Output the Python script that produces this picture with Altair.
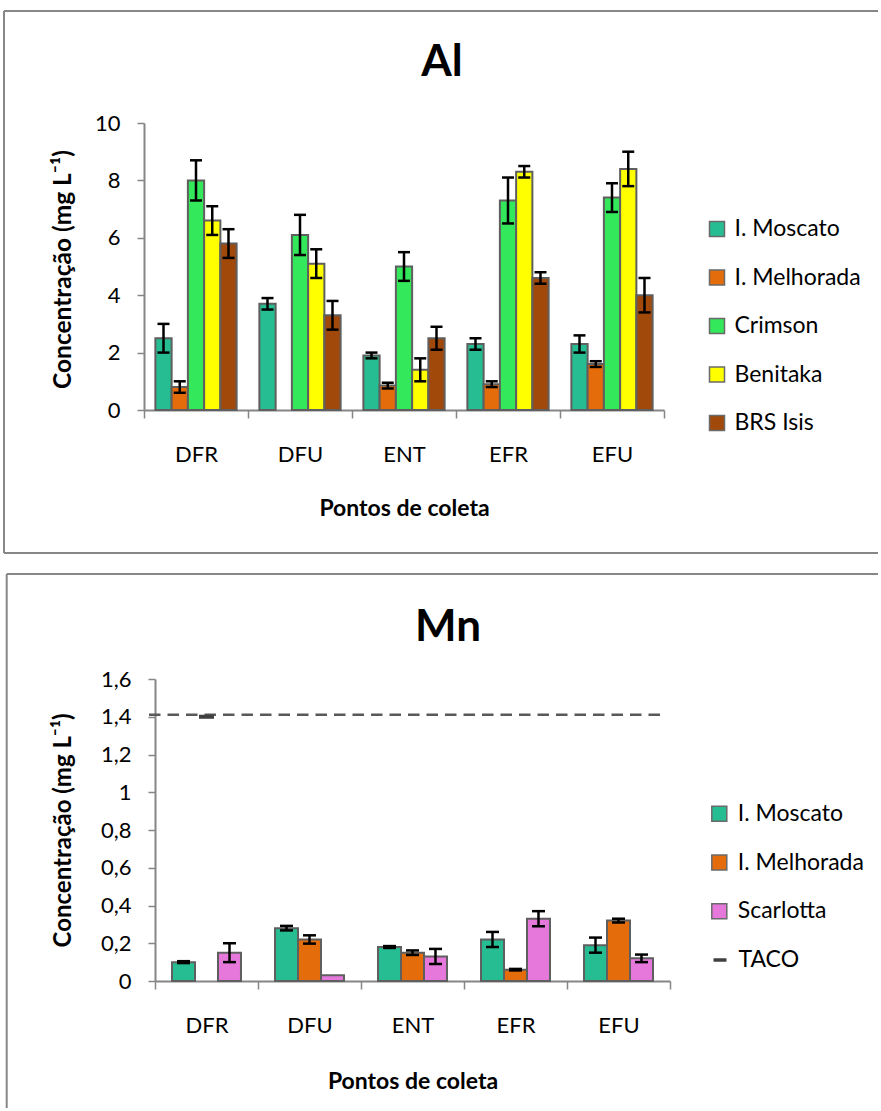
import altair as alt
import pandas as pd

# ---------------- data ----------------
sites = ["DFR", "DFU", "ENT", "EFR", "EFU"]

al_series = ["I. Moscato", "I. Melhorada", "Crimson", "Benitaka", "BRS Isis"]
al_colors = ["#27BD93", "#E46C0A", "#33E85A", "#FFFF00", "#A0490A"]
al_moscato = [2.5, 3.7, 1.9, 2.3, 2.3]
al_moscato_err = [0.5, 0.2, 0.1, 0.2, 0.3]
al_melhorada = [0.8, None, 0.85, 0.9, 1.6]
al_melhorada_err = [0.2, None, 0.1, 0.1, 0.1]
al_crimson = [8.0, 6.1, 5.0, 7.3, 7.4]
al_crimson_err = [0.7, 0.7, 0.5, 0.8, 0.5]
al_benitaka = [6.6, 5.1, 1.4, 8.3, 8.4]
al_benitaka_err = [0.5, 0.5, 0.4, 0.2, 0.6]
al_brs = [5.8, 3.3, 2.5, 4.6, 4.0]
al_brs_err = [0.5, 0.5, 0.4, 0.2, 0.6]

mn_series = ["I. Moscato", "I. Melhorada", "Scarlotta"]
mn_colors = ["#27BD93", "#E46C0A", "#E678DC"]
mn_moscato = [0.10, 0.28, 0.18, 0.22, 0.19]
mn_moscato_err = [0.005, 0.012, 0.005, 0.04, 0.04]
mn_melhorada = [None, 0.22, 0.15, 0.06, 0.32]
mn_melhorada_err = [None, 0.022, 0.012, 0.004, 0.01]
mn_scarlotta = [0.15, 0.03, 0.13, 0.33, 0.12]
mn_scarlotta_err = [0.05, 0.0, 0.04, 0.04, 0.02]

taco_label = ["TACO"]
taco_site = ["DFR"]
taco_value = [1.4]
taco_line = [1.41]

al_ticks = [0, 2, 4, 6, 8, 10]
mn_ticks = [0, 0.2, 0.4, 0.6, 0.8, 1.0, 1.2, 1.4, 1.6]

FONT = "Lato"
GRAY = "#868686"
FRAME = "#878787"
YTITLE = "Concentração (mg L⁻¹)"
XTITLE = "Pontos de coleta"


def long_df(series, vals, errs):
    rows = []
    for s, v, e in zip(series, vals, errs):
        for site, val, err in zip(sites, v, e):
            if val is None:
                continue
            err = err or 0.0
            rows.append(dict(site=site, serie=s, value=val, lo=val - err, hi=val + err, err=err))
    return pd.DataFrame(rows)


al_df = long_df(al_series,
                [al_moscato, al_melhorada, al_crimson, al_benitaka, al_brs],
                [al_moscato_err, al_melhorada_err, al_crimson_err, al_benitaka_err, al_brs_err])
mn_df = long_df(mn_series,
                [mn_moscato, mn_melhorada, mn_scarlotta],
                [mn_moscato_err, mn_melhorada_err, mn_scarlotta_err])
taco_df = pd.DataFrame({"site": taco_site, "v": taco_value, "ref": taco_label})
taco_line_df = pd.DataFrame({"v": taco_line})
one = pd.DataFrame({"a": [0]})


def hrule(x1, x2, y):
    return alt.Chart(one).mark_rule(color=FRAME, strokeWidth=2).encode(
        x=alt.value(x1), x2=alt.value(x2), y=alt.value(y))


def vrule(x, y1, y2):
    return alt.Chart(one).mark_rule(color=FRAME, strokeWidth=2).encode(
        x=alt.value(x), y=alt.value(y1), y2=alt.value(y2))


def panel(df, series, colors, domain, ticks, width, height, xrange, ypad_off,
          offset_pad, cap, ytitle_x, ytitle_y, ytitle_size, xtitle_y, legend_x, legend_y,
          row_pad, label_off, title, title_x, title_y, frame_layers, extra_layers,
          label_expr=None):
    xscale = alt.Scale(domain=sites, range=xrange, paddingInner=0, paddingOuter=0)
    xaxis = alt.Axis(title=XTITLE, labelAngle=0, tickBand="extent", tickSize=8,
                     tickColor=GRAY, tickWidth=1.5, domainColor=GRAY, domainWidth=2,
                     labelFont=FONT, labelFontSize=22, labelColor="black", labelPadding=26,
                     titleFont=FONT, titleFontSize=23, titleFontWeight="bold", titleColor="black",
                     titleBaseline="alphabetic", titleX=(xrange[0] + xrange[1]) / 2,
                     titleY=xtitle_y)
    yaxis_kw = dict(title=YTITLE, values=ticks, tickSize=7, tickColor=GRAY, tickWidth=1.5,
                    domainColor=GRAY, domainWidth=2, grid=False,
                    labelFont=FONT, labelFontSize=22, labelColor="black", labelPadding=17,
                    titleFont=FONT, titleFontSize=ytitle_size, titleFontWeight="bold",
                    titleColor="black", titleAngle=270, titleBaseline="alphabetic",
                    titleAlign="center", titleX=ytitle_x, titleY=ytitle_y)
    if ypad_off:
        yaxis_kw["offset"] = ypad_off
    if label_expr:
        yaxis_kw["labelExpr"] = label_expr
    yaxis = alt.Axis(**yaxis_kw)
    yscale = alt.Scale(domain=domain, nice=False, zero=True)

    X = alt.X("site:N", sort=sites, scale=xscale, axis=xaxis)
    XO = alt.XOffset("serie:N", sort=series,
                     scale=alt.Scale(domain=series, paddingInner=0, paddingOuter=offset_pad))

    bars = alt.Chart(df).mark_bar(stroke="#5f5f5f", strokeWidth=2).encode(
        x=X, xOffset=XO,
        y=alt.Y("value:Q", scale=yscale, axis=yaxis),
        color=alt.Color("serie:N", sort=series,
                        scale=alt.Scale(domain=series, range=colors),
                        legend=alt.Legend(orient="none", legendX=legend_x, legendY=legend_y,
                                          title=None, padding=0, symbolType="square",
                                          symbolSize=225, symbolStrokeColor="#6a6a6a",
                                          symbolStrokeWidth=1.5, labelFont=FONT,
                                          labelFontSize=23, labelColor="black",
                                          rowPadding=row_pad, labelOffset=label_off)),
    )
    err_base = alt.Chart(df).transform_filter("datum.err > 0")
    rules = err_base.mark_rule(color="black", strokeWidth=2.5).encode(
        x=X, xOffset=XO,
        y=alt.Y("lo:Q", scale=yscale, axis=yaxis), y2="hi:Q")
    cap_lo = err_base.mark_tick(color="black", thickness=2.5, size=cap, opacity=1).encode(
        x=X, xOffset=XO, y=alt.Y("lo:Q", scale=yscale, axis=yaxis))
    cap_hi = err_base.mark_tick(color="black", thickness=2.5, size=cap, opacity=1).encode(
        x=X, xOffset=XO, y=alt.Y("hi:Q", scale=yscale, axis=yaxis))

    ttl = alt.Chart(one).mark_text(text=title, font=FONT, fontSize=44, fontWeight="bold",
                                   color="black", align="center", baseline="alphabetic").encode(
        x=alt.value(title_x), y=alt.value(title_y))

    layers = frame_layers + [bars, rules, cap_lo, cap_hi] + extra_layers(X, yscale, yaxis) + [ttl]
    return alt.layer(*layers).properties(width=width, height=height)


# ---------- top panel (Al) ----------
top_frame = [hrule(-140, 734, -112), vrule(-140, -112, 430), hrule(-140, 734, 430)]
top = panel(al_df, al_series, al_colors, [0, 10], al_ticks, 520, 287, [0, 520], 0,
            0.7, 12, -74, 146, 24.5, 105, 561.5, 94.5, 24.5, 6, "Al", 298, -47, top_frame,
            lambda X, ys, ya: [])


# ---------- bottom panel (Mn) ----------
def mn_extra(X, yscale, yaxis):
    dash = alt.Chart(taco_line_df).mark_rule(color="#595959", strokeWidth=2.5,
                                             strokeDash=[11.5, 7]).encode(
        x=alt.value(5), x2=alt.value(520), y=alt.Y("v:Q", scale=yscale, axis=yaxis))
    path = "M-1,-0.27L1,-0.27L1,0.27L-1,0.27Z"
    marker = alt.Chart(taco_df).mark_point(filled=True, size=225, color="#404040",
                                           opacity=1, strokeWidth=0).encode(
        x=X, y=alt.Y("v:Q", scale=yscale, axis=yaxis),
        shape=alt.Shape("ref:N", scale=alt.Scale(domain=taco_label, range=[path]),
                        legend=alt.Legend(orient="none", legendX=564.5, legendY=269.5,
                                          title=None, padding=0, symbolSize=169,
                                          symbolFillColor="#404040", symbolStrokeWidth=0,
                                          labelFont=FONT, labelFontSize=23, labelColor="black",
                                          labelOffset=7)))
    return [dash, marker]


bottom_frame = [hrule(-137.3, 734, -105), vrule(-137.3, -105, 429)]
bottom = panel(mn_df, mn_series, mn_colors, [0, 1.6], mn_ticks, 526, 302, [11, 526], -11,
               0.74, 13, -85, 151, 24, 107, 563.8, 123.2, 24.8, 7, "Mn", 304, -38,
               bottom_frame, mn_extra,
               label_expr="replace(format(datum.value, '.1~f'), '.', ',')")

chart = alt.vconcat(top, bottom, spacing=269, bounds="flush").resolve_scale(
    color="independent", xOffset="independent", shape="independent"
).resolve_legend(color="independent", shape="independent").properties(
    padding={"left": 3, "top": 10, "right": 0, "bottom": 0}
).configure(font=FONT).configure_view(strokeWidth=0, stroke=None)

chart.save("out.html", embed_options={"renderer": "svg", "actions": False})
